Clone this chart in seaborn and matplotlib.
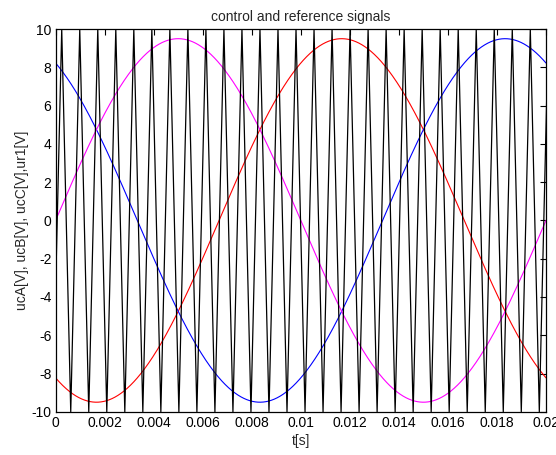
import numpy as np
import pandas as pd
import matplotlib
matplotlib.use("Agg")
import matplotlib.pyplot as plt
import seaborn as sns

# ---- values ----
t_limits = [0.0, 0.02]
x_ticks = [0, 0.002, 0.004, 0.006, 0.008, 0.01, 0.012, 0.014, 0.016, 0.018, 0.02]
x_tick_labels = ["0", "0.002", "0.004", "0.006", "0.008", "0.01", "0.012",
                 "0.014", "0.016", "0.018", "0.02"]
y_ticks = [-10, -8, -6, -4, -2, 0, 2, 4, 6, 8, 10]

# reference (control) sinusoids
ref_names = ["ucA", "ucB", "ucC"]
ref_colors = ["#ff0000", "#0000ff", "#ff00ff"]
ref_amplitude = 9.5          # V
ref_frequency = 50.0         # Hz
ref_phase_deg = [-120.0, 120.0, 0.0]

# triangular carrier ur1
carrier_amplitude = 10.0     # V
carrier_period = 0.000735    # s
carrier_first_peak = 0.00025 # s

title = "control and reference signals"
xlabel = "t[s]"
ylabel = "ucA[V], ucB[V], ucC[V],ur1[V]"

# ---- build data tables ----
t = np.linspace(t_limits[0], t_limits[1], 2001)
ref_frames = []
for name, ph in zip(ref_names, ref_phase_deg):
    ref_frames.append(pd.DataFrame({
        "t": t,
        "v": ref_amplitude * np.sin(2 * np.pi * ref_frequency * t + np.deg2rad(ph)),
        "signal": name,
    }))
refs = pd.concat(ref_frames, ignore_index=True)

n_per = int(np.ceil((t_limits[1] - carrier_first_peak) / carrier_period)) + 2
vt, vv = [], []
for k in range(-1, n_per):
    vt.append(carrier_first_peak + (k - 0.5) * carrier_period)
    vv.append(-carrier_amplitude)
    vt.append(carrier_first_peak + k * carrier_period)
    vv.append(carrier_amplitude)
carrier = pd.DataFrame({"t": vt, "v": vv, "signal": "ur1"})

# ---- plot ----
sns.set_theme(style="white")
plt.rcParams["font.family"] = ["Liberation Sans", "DejaVu Sans"]
plt.rcParams.update({
    "axes.unicode_minus": False,
    "xtick.direction": "in", "ytick.direction": "in",
    "xtick.top": True, "ytick.right": True,
    "xtick.major.size": 4, "ytick.major.size": 4,
    "xtick.major.width": 0.8, "ytick.major.width": 0.8,
    "xtick.color": "black", "ytick.color": "black",
    "axes.edgecolor": "black", "axes.linewidth": 0.9,
})

fig = plt.figure(figsize=(5.56, 4.55), dpi=100, facecolor="white")
ax = fig.add_axes([0.1, 0.095, 0.882, 0.841])

sns.lineplot(data=refs, x="t", y="v", hue="signal", palette=ref_colors,
             hue_order=ref_names, estimator=None, sort=False, lw=0.8,
             legend=False, ax=ax)
sns.lineplot(data=carrier, x="t", y="v", color="black", estimator=None,
             sort=False, lw=0.9, legend=False, ax=ax)

ax.set_xlim(t_limits)
ax.set_ylim(-10, 10)
ax.set_xticks(x_ticks)
ax.set_xticklabels(x_tick_labels)
ax.set_yticks(y_ticks)
ax.tick_params(labelsize=10, pad=3, colors="black")
ax.set_title(title, fontsize=10, pad=6)
ax.set_xlabel(xlabel, fontsize=10, labelpad=3)
ax.set_ylabel(ylabel, fontsize=10, labelpad=2)
for s in ax.spines.values():
    s.set_visible(True)
    s.set_color("black")
    s.set_zorder(5)

fig.savefig("out.png", dpi=100, facecolor="white")
